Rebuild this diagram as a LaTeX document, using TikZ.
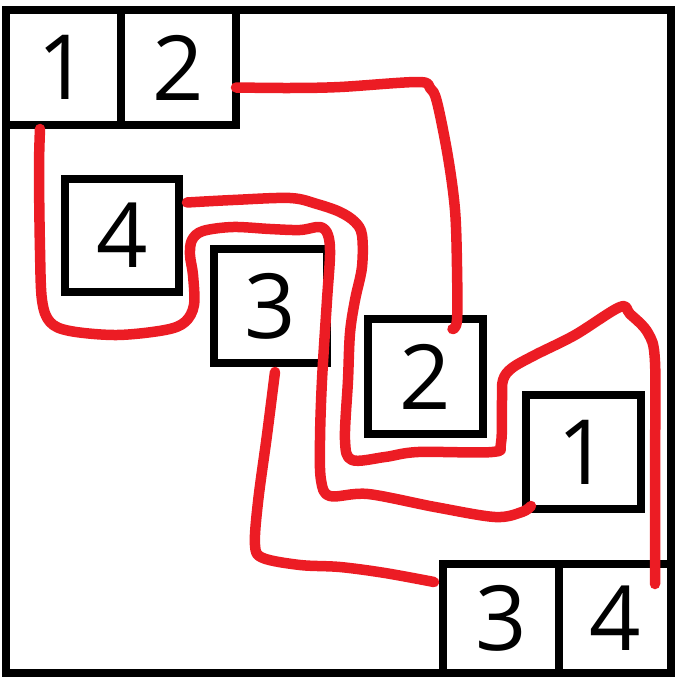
\documentclass[tikz,border=0pt]{standalone}
\usepackage{fontspec}
\setmainfont{Open Sans}
\definecolor{wirered}{RGB}{236,28,36}
\begin{document}
\begin{tikzpicture}[
    x=1pt, y=-1pt,
    digitbox/.style={rectangle, draw, line width=8pt, inner sep=0pt, minimum width=115pt, minimum height=115pt, font=\fontsize{90}{90}\selectfont},
    wire/.style={draw=wirered, line width=10.5pt, line cap=round, line join=round}
]
    \useasboundingbox (0,0) rectangle (675,677);
    \draw [line width=8pt] (6,10) rectangle (671,673);

    \node [digitbox] (t1) at (63.5,67.5) {1};
    \node [digitbox] (t2) at (178.5,67.5) {2};
    \node [digitbox, minimum width=114pt, minimum height=113pt] (m4) at (122,235.5) {4};
    \node [digitbox, minimum width=113pt, minimum height=114pt] (m3) at (270,306) {3};
    \node [digitbox] (m2) at (425.5,376.5) {2};
    \node [digitbox, minimum height=114pt] (m1) at (583.5,452) {1};
    \node [digitbox, minimum width=116pt, minimum height=109pt] (b3) at (501,618.5) {3};
    \node [digitbox, minimum width=112pt, minimum height=109pt] (b4) at (615,618.5) {4};

    % 1 to 1
    \draw [wire] plot[smooth, tension=0.55] coordinates {([xshift=-23.5pt]t1.south) (39,170) (40,250) (42,300) (50,322) (70,331) (117,335) (165,330) (185,322) (194,305) (193,275) (190,255) (192,240) (203,231) (233,227) (270,229) (300,230) (320,227) (328,235) (330,255) (327,300) (322,380) (320,440) (321,480) (330,496) (368,494) (435,507) (495,517) (522,512) ([xshift=9pt,yshift=7pt]m1.south west)};
    % 2 to 2
    \draw [wire] plot[smooth, tension=0.55] coordinates {([xshift=-4pt,yshift=-20pt]t2.east) (290,88) (340,87) (418,82) (430,88) (437,102) (448,157) (455,210) (457,267) (457,320) ([xshift=27pt,yshift=-14pt]m2.north)};
    % 4 to 4
    \draw [wire] plot[smooth, tension=0.55] coordinates {([xshift=4pt,yshift=33pt]m4.east) (233,200) (290,198) (317,204) (340,212) (355,222) (362,235) (362,267) (355,300) (350,333) (348,380) (345,440) (352,460) (385,457) (418,452) (492,452) (501,443) (502,400) (503,380) (512,368) (535,355) (575,335) (620,307) (630,314) (648,333) (655,362) (655,468) ([xshift=40pt,yshift=-24pt]b4.north)};
    % 3 to 3
    \draw [wire] plot[smooth, tension=0.55] coordinates {([xshift=5pt,yshift=-5pt]m3.south) (267,435) (258,502) (255,545) (263,558) (300,565) (340,567) (385,573) ([xshift=-5pt,yshift=36.5pt]b3.west)};
\end{tikzpicture}
\end{document}
